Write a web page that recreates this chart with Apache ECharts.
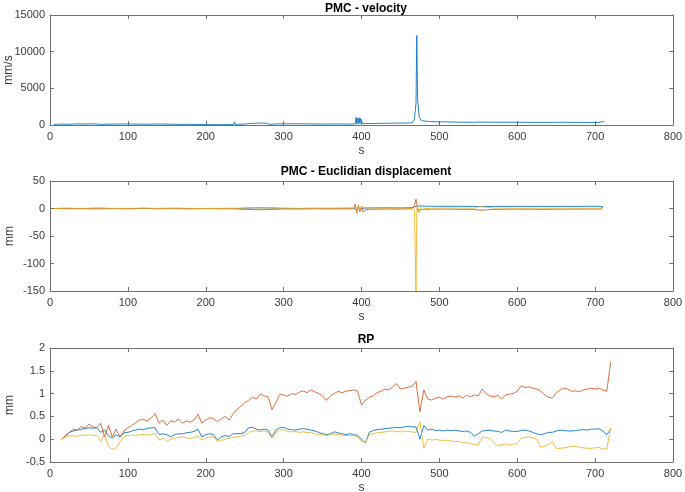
<!DOCTYPE html>
<html>
<head>
<meta charset="utf-8">
<script src="https://cdn.jsdelivr.net/npm/echarts@6/dist/echarts.min.js"></script>
<style>html,body{margin:0;padding:0;background:#fff}#c{width:685px;height:492px}</style>
</head>
<body>
<div id="c"></div>
<script>
// ---- Data ----
var titles = ['PMC - velocity', 'PMC - Euclidian displacement', 'RP'];
var yNames = ['mm/s', 'mm', 'mm'];
var xTicks = [0, 800, 100];

// velocity
var velT = [5,15,25,35,45,55,65,80,100,120,140,160,180,200,215,230,236,237,238,245,260,270,278,282,290,310,330,350,370,385,392,393,394,395,396,397,398,399,400,401,402,405,420,440,455,465,468,470,471,472,474,476,480,490,510,530,545,547,550,570,600,630,660,690,705,709,710,712];
var velV = [80,120,100,150,130,160,90,120,140,110,130,100,80,60,40,60,80,420,100,90,220,260,250,80,150,170,150,130,140,120,150,1050,120,950,150,1000,200,900,950,250,150,180,220,250,260,300,800,3000,12200,3500,1200,700,550,450,420,380,370,600,400,380,370,360,370,350,340,480,300,420];

// Euclidian displacement
var dispT = [5,20,40,60,80,100,120,140,160,180,200,220,235,237,240,260,270,280,282,300,320,340,360,380,390,392,394,396,398,400,402,404,406,410,430,450,465,468,470,471,472,474,476,478,482,490,510,530,545,547,550,555,557,570,600,630,660,690,705,710];
var dispBlue = [0,0.3,-0.2,0.4,0,-0.3,0.2,0,0.3,-0.2,0.1,0, 0.2,0.5,0, 1,1.2,1,0, 0.2,0,0.3,0.1,0.4,0.5, 3,-3,2.5,-2,1.5,0.5,1,0.8, 1,1.2,1,1.5, 3,5,4,6,5,4.5,4.5,4.2, 4,4,4,3.8,3.5,3.6,3.8,3.8, 3.8,3.9,3.8,3.9,4,4,3];
var dispOrange = [0,-0.5,-0.3,-0.6,-0.2,-0.4,0.2,-0.5,-0.3,-0.6,-0.2,-0.5, -0.5,-4,-1, -2,-2.2,-2,-0.5, -0.8,-1,-0.5,-0.8,-0.5,-0.5, 8,-8,6,-6,4,-6,-4,-2, -1.5,-1,-1,-0.5, 5,17,10,-5,-3,-2,-1,-1.5, -1.2,-1,-1.5,-1.5,-3,-3,-3,-1.5, -1.5,-1.2,-1.5,-1.2,-1,-1,2];
var dispYellow = [0,0.5,0.2,0.6,0.3,0.2,0.5,0.1,0.4,0.3,0,0.2, 0.3,1,0.2, 1.5,1.2,1,0, 0.5,0.2,0.4,0.3,0.5,0.5, 5,-5,4,-3,3,4,2,1, 1,0.5,0.5,0.5, -3,-150,-10,5,-8,3,-2,0, 0.5,1,0.8,0.5,3,3,3,0.5, 0.8,0.5,0.4,0.6,0.5,0.5,-2];

// RP
var rpT = [];
for (var t = 15; t <= 720; t += 5) rpT.push(t);
var rpOrange = [0.00,0.08,0.15,0.22,0.20,0.28,0.24,0.33,0.27,0.25,
0.35,0.05,0.30,0.05,0.22,0.05,0.18,0.25,0.30,0.36,
0.42,0.43,0.40,0.47,0.56,0.35,0.42,0.30,0.40,0.38,
0.44,0.35,0.40,0.37,0.42,0.55,0.35,0.42,0.47,0.45,
0.38,0.45,0.50,0.42,0.55,0.65,0.72,0.80,0.85,0.92,
0.88,0.99,0.95,0.93,0.65,0.80,0.98,0.97,0.94,1.00,
0.98,1.03,1.06,1.02,1.08,1.04,1.00,0.95,0.85,0.95,
1.00,1.05,1.02,1.05,1.07,1.08,1.05,0.75,0.85,0.92,
0.95,1.02,1.05,1.10,1.08,1.15,1.22,1.10,1.12,1.14,
1.16,1.27,0.60,1.08,0.88,0.86,0.90,0.92,0.88,0.93,
0.95,0.92,0.95,0.90,0.96,0.93,0.97,0.95,1.10,1.00,
0.95,0.93,0.96,0.88,0.97,0.99,1.00,1.05,1.17,1.13,
1.15,1.12,1.10,1.05,0.98,0.92,0.90,1.02,1.08,1.12,
1.10,1.05,1.06,1.04,1.08,1.10,1.12,1.10,1.12,1.08,
1.05,1.70];
var rpBlue = [0.00,0.08,0.15,0.18,0.20,0.22,0.23,0.25,0.24,0.25,
0.15,0.20,0.08,0.02,0.10,0.05,0.14,0.15,0.18,0.20,
0.22,0.21,0.24,0.25,0.25,0.10,0.12,0.10,0.05,0.10,
0.12,0.12,0.14,0.15,0.17,0.22,0.05,0.10,0.12,0.10,
-0.02,0.05,0.08,0.06,0.12,0.12,0.12,0.15,0.25,0.26,
0.22,0.20,0.22,0.20,0.05,0.20,0.25,0.26,0.22,0.21,
0.20,0.22,0.23,0.22,0.20,0.18,0.15,0.12,0.10,0.12,
0.16,0.14,0.12,0.10,0.12,0.10,0.08,0.00,-0.08,0.15,
0.19,0.21,0.22,0.23,0.24,0.25,0.26,0.25,0.27,0.28,
0.27,0.27,0.00,0.30,0.20,0.22,0.19,0.20,0.18,0.20,
0.19,0.20,0.18,0.17,0.18,0.15,0.07,0.12,0.18,0.19,
0.20,0.18,0.17,0.15,0.20,0.18,0.17,0.17,0.19,0.20,
0.18,0.15,0.12,0.10,0.12,0.15,0.15,0.18,0.20,0.19,
0.18,0.18,0.19,0.20,0.21,0.20,0.22,0.22,0.23,0.18,
0.10,0.22];
var rpYellow = [0.00,0.05,0.07,0.08,0.06,0.09,0.08,0.10,0.08,0.09,
-0.05,0.10,-0.15,-0.22,-0.20,-0.05,0.06,0.08,0.09,0.08,
0.10,0.10,0.09,0.11,0.12,-0.02,0.02,-0.05,0.00,0.02,
0.04,0.05,0.03,0.02,0.04,0.06,-0.02,0.03,0.05,0.05,
-0.05,-0.03,0.00,0.02,0.04,0.05,0.07,0.08,0.15,0.18,
0.18,0.17,0.18,0.15,0.02,0.15,0.20,0.21,0.17,0.16,
0.17,0.15,0.16,0.15,0.14,0.12,0.10,0.10,0.08,0.10,
0.11,0.10,0.09,0.08,0.08,0.07,0.06,-0.05,-0.07,0.10,
0.12,0.14,0.15,0.16,0.17,0.18,0.17,0.16,0.18,0.17,
0.16,0.15,0.38,-0.20,0.00,-0.02,0.00,-0.02,-0.03,-0.02,
-0.04,-0.05,-0.05,-0.07,-0.08,-0.10,-0.11,-0.12,0.05,0.03,
0.02,-0.08,-0.15,-0.12,-0.10,-0.13,-0.11,-0.10,0.02,0.04,
0.05,0.03,0.00,-0.17,-0.16,-0.12,-0.05,-0.20,-0.20,-0.19,
-0.18,-0.15,-0.16,-0.18,-0.19,-0.20,-0.20,-0.19,-0.18,-0.22,
-0.21,0.25];

var yRanges = [[0, 15000, 5000], [-150, 50, 50], [-0.5, 2, 0.5]];
var colors = ['#0072BD', '#D95319', '#EDB120'];

// ---- Chart ----
function zip(xs, ys) { return xs.map(function (x, i) { return [x, ys[i]]; }); }
function plain(v) { return String(v); }

var grids = [
  {left: 50, right: 12, top: 15, height: 110, outerBoundsMode: 'none', containLabel: false},
  {left: 50, right: 12, top: 181, height: 110, outerBoundsMode: 'none', containLabel: false},
  {left: 50, right: 12, top: 348, height: 114, outerBoundsMode: 'none', containLabel: false}
];
var titleTops = [-2, 161, 329];
var lineC = '#707070', txtC = '#3a3a3a', font = 'Liberation Sans';

var xAxes = [], yAxes = [];
for (var g = 0; g < 3; g++) {
  xAxes.push({
    gridIndex: g, type: 'value', position: 'bottom', min: xTicks[0], max: xTicks[1], interval: xTicks[2],
    name: 's', nameLocation: 'middle', nameGap: 20, nameMoveOverlap: false,
    nameTextStyle: {color: txtC, fontSize: 12, fontFamily: font},
    axisLine: {onZero: false, lineStyle: {color: lineC, width: 1}},
    axisTick: {inside: true, length: 4, lineStyle: {color: lineC}},
    axisLabel: {color: txtC, fontSize: 11, fontFamily: font, margin: 6, formatter: plain},
    splitLine: {show: false}
  });
  xAxes.push({
    gridIndex: g, type: 'value', position: 'top', min: xTicks[0], max: xTicks[1], interval: xTicks[2],
    axisLine: {onZero: false, lineStyle: {color: lineC, width: 1}},
    axisTick: {inside: true, length: 4, lineStyle: {color: lineC}},
    axisLabel: {show: false}, splitLine: {show: false}
  });
  var r = yRanges[g];
  yAxes.push({
    gridIndex: g, type: 'value', position: 'left', min: r[0], max: r[1], interval: r[2],
    name: yNames[g], nameLocation: 'middle', nameGap: g === 0 ? 35 : 34, nameRotate: 90, nameMoveOverlap: false,
    nameTextStyle: {color: txtC, fontSize: 12, fontFamily: font},
    axisLine: {onZero: false, lineStyle: {color: lineC, width: 1}},
    axisTick: {inside: true, length: 4, lineStyle: {color: lineC}},
    axisLabel: {color: txtC, fontSize: 11, fontFamily: font, margin: 5, formatter: plain},
    splitLine: {show: false}
  });
  yAxes.push({
    gridIndex: g, type: 'value', position: 'right', min: r[0], max: r[1], interval: r[2],
    axisLine: {onZero: false, lineStyle: {color: lineC, width: 1}},
    axisTick: {inside: true, length: 4, lineStyle: {color: lineC}},
    axisLabel: {show: false}, splitLine: {show: false}
  });
}

function ln(g, data, c) {
  return {type: 'line', xAxisIndex: g * 2, yAxisIndex: g * 2, data: data, showSymbol: false,
    symbol: 'none', lineStyle: {color: c, width: 1, opacity: 0.85}, itemStyle: {color: c}, animation: false};
}

var series = [
  ln(0, zip(velT, velV), colors[0]),
  ln(1, zip(dispT, dispBlue), colors[0]),
  ln(1, zip(dispT, dispOrange), colors[1]),
  ln(1, zip(dispT, dispYellow), colors[2]),
  ln(2, zip(rpT, rpBlue), colors[0]),
  ln(2, zip(rpT, rpOrange), colors[1]),
  ln(2, zip(rpT, rpYellow), colors[2])
];

var chart = echarts.init(document.getElementById('c'), null, {renderer: 'canvas'});
chart.setOption({
  backgroundColor: '#ffffff',
  animation: false,
  title: titles.map(function (t, i) {
    return {text: t, left: 361, textAlign: 'center', top: titleTops[i],
      textStyle: {fontSize: 12, fontWeight: 'bold', color: '#000', fontFamily: font}};
  }),
  grid: grids,
  xAxis: xAxes,
  yAxis: yAxes,
  series: series
});
</script>
</body>
</html>
